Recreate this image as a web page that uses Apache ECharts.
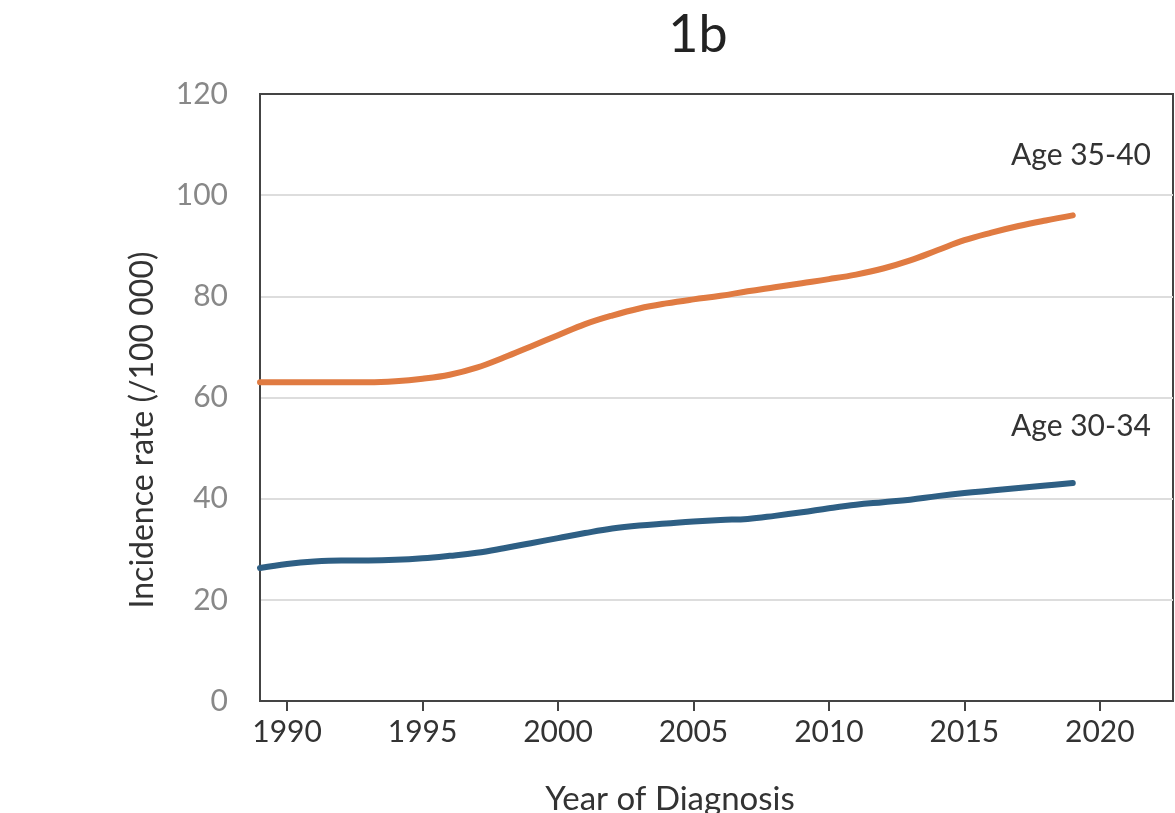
<!DOCTYPE html>
<html>
<head>
<meta charset="utf-8">
<script src="https://cdn.jsdelivr.net/npm/echarts@6/dist/echarts.min.js"></script>
<style>html,body{margin:0;padding:0;background:#fff}#c{width:1175px;height:813px}</style>
</head>
<body>
<div id="c"></div>
<script>
var years = [1989,1990,1991,1992,1993,1994,1995,1996,1997,1998,1999,2000,2001,2002,2003,2004,2005,2006,2007,2008,2009,2010,2011,2012,2013,2014,2015,2016,2017,2018,2019];
var age3540 = [63.0,63.0,63.0,63.0,63.0,63.2,63.7,64.5,65.9,67.9,70.1,72.3,74.5,76.2,77.6,78.6,79.4,80.1,81.0,81.8,82.6,83.4,84.3,85.5,87.1,89.1,91.1,92.6,93.9,95.0,96.0];
var age3034 = [26.3,27.1,27.6,27.8,27.8,27.9,28.2,28.7,29.3,30.2,31.2,32.2,33.2,34.1,34.7,35.1,35.5,35.8,36.0,36.6,37.3,38.1,38.8,39.3,39.8,40.5,41.1,41.6,42.1,42.6,43.1];
var xTicks = [1990,1995,2000,2005,2010,2015,2020];
var yMin = 0, yMax = 120, yStep = 20;
var labels = {top: 'Age 35-40', bottom: 'Age 30-34'};

function pairs(xs, ys){ return xs.map(function(x,i){ return [x, ys[i]]; }); }

var font = 'Lato, "Open Sans", sans-serif';
var chart = echarts.init(document.getElementById('c'));
chart.setOption({
  animation: false,
  title: {text: '1b', left: 693, top: 4, textAlign: 'center',
    textStyle: {fontSize: 52, fontWeight: 'normal', color: '#222', fontFamily: font}},
  grid: {left: 260, right: 2, top: 94, bottom: 112, show: true, borderColor: '#444', borderWidth: 2, containLabel: false},
  xAxis: {
    type: 'value', min: 1989, max: 2022.7,
    axisLine: {show: true, lineStyle: {color: '#444', width: 2}},
    axisTick: {show: true, customValues: xTicks, length: 10, lineStyle: {color: '#444', width: 2}},
    axisLabel: {customValues: xTicks, fontSize: 30, color: '#333', fontFamily: font, margin: 16,
      formatter: function(v){ return String(Math.round(v)); }},
    splitLine: {show: false}
  },
  yAxis: {
    type: 'value', min: yMin, max: yMax, interval: yStep,
    axisLine: {show: true, lineStyle: {color: '#444', width: 2}},
    axisTick: {show: false},
    axisLabel: {fontSize: 30, color: '#888', fontFamily: font, margin: 32},
    splitLine: {show: true, showMinLine: false, showMaxLine: false, lineStyle: {color: '#ddd', width: 2}}
  },
  graphic: [
    {type: 'text', left: 1011, top: 140, style: {text: labels.top, fontSize: 30, fill: '#333', fontFamily: font}},
    {type: 'text', left: 1011, top: 411, style: {text: labels.bottom, fontSize: 30, fill: '#333', fontFamily: font}},
    {type: 'text', x: 143, y: 430, rotation: Math.PI/2, style: {text: 'Incidence rate (/100 000)', fontSize: 32, fill: '#333', fontFamily: font, align: 'center', verticalAlign: 'middle'}},
    {type: 'text', x: 670, y: 783, style: {text: 'Year of Diagnosis', fontSize: 33, fill: '#333', fontFamily: font, align: 'center', verticalAlign: 'top'}}
  ],
  series: [
    {name: labels.top, type: 'line', data: pairs(years, age3540), smooth: 0.4, showSymbol: false,
      lineStyle: {color: '#E07B42', width: 6, cap: 'round'}, itemStyle: {color: '#E07B42'}},
    {name: labels.bottom, type: 'line', data: pairs(years, age3034), smooth: 0.4, showSymbol: false,
      lineStyle: {color: '#2E5F84', width: 6, cap: 'round'}, itemStyle: {color: '#2E5F84'}}
  ]
});
</script>
</body>
</html>
